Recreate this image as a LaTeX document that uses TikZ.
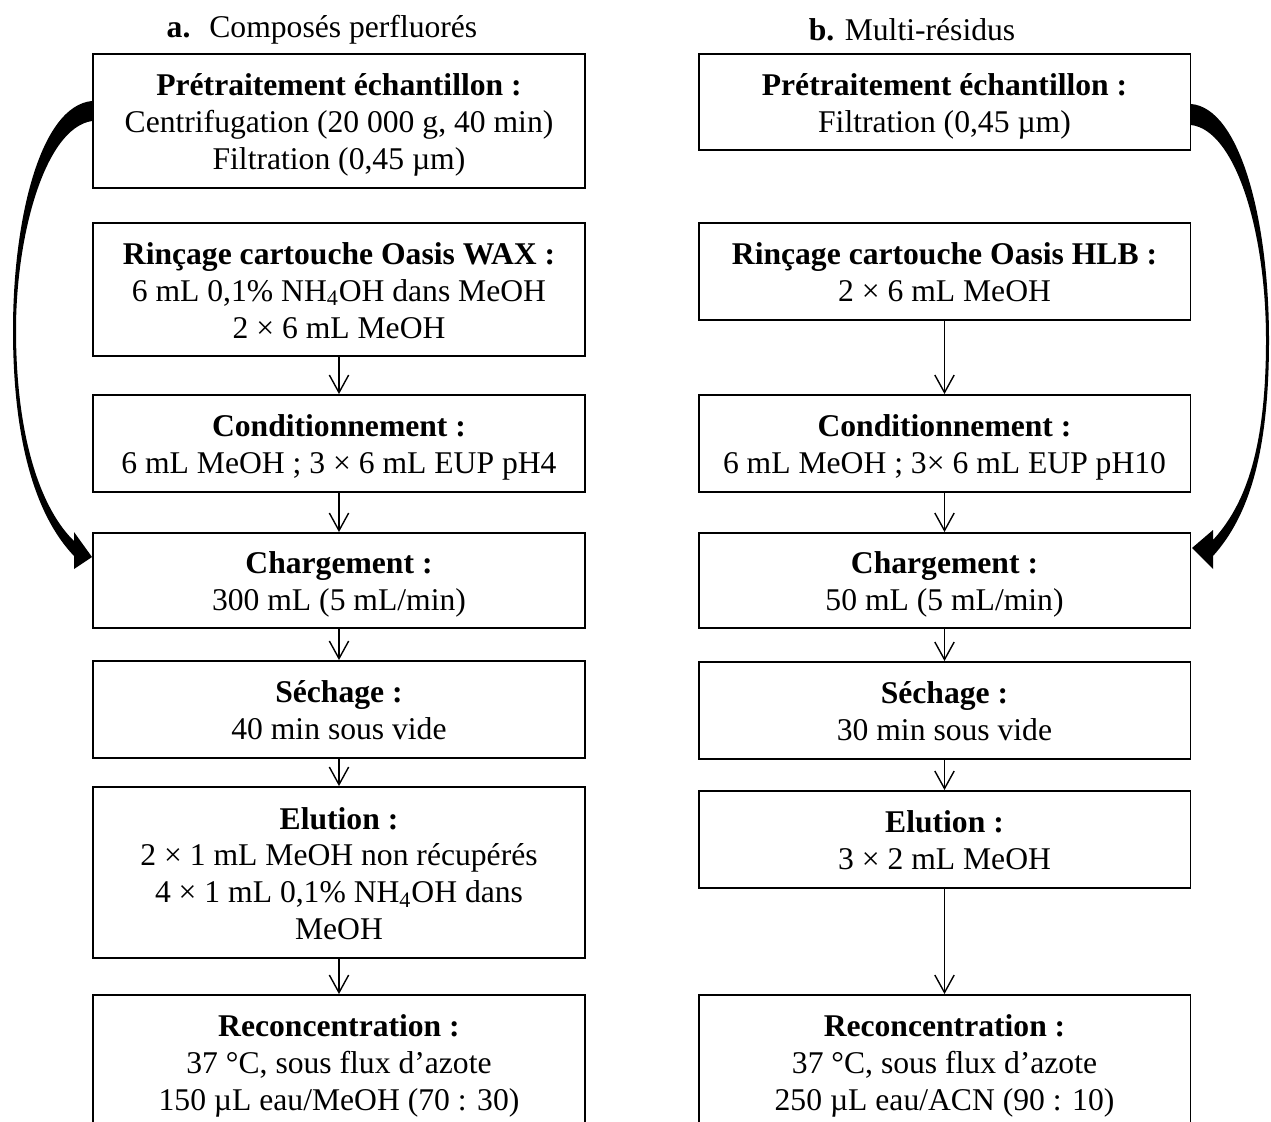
\documentclass[tikz,border=0pt]{standalone}
\usepackage{fontspec}
\setmainfont{Liberation Serif}
\usetikzlibrary{arrows.meta}

\begin{document}
\begin{tikzpicture}[x=0.02cm, y=-0.02cm,
    etape/.style={draw, line width=1.1pt, text width=9.5cm, minimum width=9.84cm,
        align=flush center, inner sep=0pt, font=\fontsize{18}{21}\selectfont,
        execute at begin node={\rule{0pt}{18.5pt}},
        execute at end node={\rule[-5pt]{0pt}{5pt}}},
    titre/.style={inner sep=0pt, font=\fontsize{18}{21}\selectfont},
    fleche/.style={-{Straight Barb[length=10pt,width=11pt]}, line width=0.8pt}]
    \useasboundingbox (0,0) rectangle (1271,1122);

    % Titres
    \node[titre] (titreA) at (322,30) {\textbf{a.}\hspace{0.6em}Composés perfluorés};
    \node[titre] (titreB) at (912,30) {\textbf{b.} Multi-résidus};

    % Colonne a
    \node[etape, minimum height=2.68cm] (a1) at (339,121)
        {\textbf{Prétraitement échantillon :}\\Centrifugation (20 000 g, 40 min)\\Filtration (0,45 µm)};
    \node[etape, minimum height=2.66cm] (a2) at (339,289.5)
        {\textbf{Rinçage cartouche Oasis WAX :}\\6 mL 0,1\% NH\textsubscript{4}OH dans MeOH\\2 × 6 mL MeOH};
    \node[etape, minimum height=1.94cm] (a3) at (339,443.5)
        {\textbf{Conditionnement :}\\6 mL MeOH ; 3 × 6 mL EUP pH4};
    \node[etape, minimum height=1.9cm] (a4) at (339,580.5)
        {\textbf{Chargement :}\\300 mL (5 mL/min)};
    \node[etape, minimum height=1.94cm] (a5) at (339,709.5)
        {\textbf{Séchage :}\\40 min sous vide};
    \node[etape, minimum height=3.42cm] (a6) at (339,872.5)
        {\textbf{Elution :}\\2 × 1 mL MeOH non récupérés\\4 × 1 mL 0,1\% NH\textsubscript{4}OH dans\\MeOH};
    \node[etape, minimum height=2.68cm] (a7) at (339,1062)
        {\textbf{Reconcentration :}\\37 °C, sous flux d’azote\\150 µL eau/MeOH (70 : 30)};

    % Colonne b
    \node[etape, minimum height=1.92cm] (b1) at (944.5,102)
        {\textbf{Prétraitement échantillon :}\\Filtration (0,45 µm)};
    \node[etape, minimum height=1.94cm] (b2) at (944.5,271.5)
        {\textbf{Rinçage cartouche Oasis HLB :}\\2 × 6 mL MeOH};
    \node[etape, minimum height=1.94cm] (b3) at (944.5,443.5)
        {\textbf{Conditionnement :}\\6 mL MeOH ; 3× 6 mL EUP pH10};
    \node[etape, minimum height=1.9cm] (b4) at (944.5,580.5)
        {\textbf{Chargement :}\\50 mL (5 mL/min)};
    \node[etape, minimum height=1.94cm] (b5) at (944.5,710.5)
        {\textbf{Séchage :}\\30 min sous vide};
    \node[etape, minimum height=1.94cm] (b6) at (944.5,839.5)
        {\textbf{Elution :}\\3 × 2 mL MeOH};
    \node[etape, minimum height=2.68cm] (b7) at (944.5,1062)
        {\textbf{Reconcentration :}\\37 °C, sous flux d’azote\\250 µL eau/ACN (90 : 10)};

    % Fleches droites
    \foreach \i/\j in {2/3,3/4,4/5,5/6,6/7} {
        \draw[fleche] (a\i) -- (a\j);
        \draw[fleche] (b\i) -- (b\j);
    }

    % Fleches courbes
    \fill (92,101) .. controls (40,106) and (13,220) .. (13,330)
        .. controls (13,440) and (35,515) .. (74,556)
        -- (74,569) -- (92,557) -- (74,532) -- (74,541)
        .. controls (42,510) and (16,440) .. (16,330)
        .. controls (16,235) and (45,128) .. (92,121) -- cycle;
    \fill (1191,104) .. controls (1240,108) and (1269,220) .. (1269,340)
        .. controls (1269,450) and (1250,515) .. (1213,556)
        -- (1213,569) -- (1192,548) -- (1213,530) -- (1213,540)
        .. controls (1245,505) and (1266,450) .. (1266,340)
        .. controls (1266,230) and (1235,130) .. (1191,125) -- cycle;
\end{tikzpicture}
\end{document}
